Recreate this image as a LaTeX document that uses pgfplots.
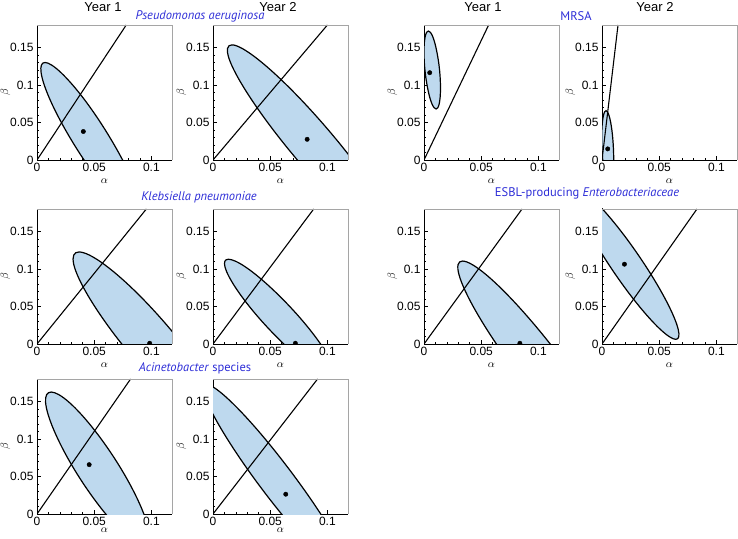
\documentclass[border=0pt]{standalone}
\usepackage{fontspec}
\setmainfont{Liberation Sans}
\newfontfamily\titlefont{PT Sans}
\usepackage{pgfplots}
\pgfplotsset{compat=1.18}
\definecolor{ellfill}{RGB}{190,217,238}
\definecolor{ttlblue}{RGB}{45,45,215}
\definecolor{framegray}{RGB}{165,165,165}

\pgfplotsset{
  panel/.style={
    width=135pt, height=135pt, scale only axis,
    anchor=north west,
    xmin=0, xmax=0.118, ymin=0, ymax=0.18,
    axis x line*=bottom, axis y line*=left,
    axis line style={black, line width=0.8pt},
    xtick={0,0.05,0.1}, xticklabels={0,0.05,0.1},
    ytick={0,0.05,0.1,0.15}, yticklabels={0,0.05,0.1,0.15},
    minor x tick num=4, minor y tick num=4,
    tick align=inside, major tick length=4pt, minor tick length=2pt,
    every tick/.style={black, line width=0.6pt},
    ticklabel style={font=\fontsize{12}{12}\selectfont},
    xlabel={$\alpha$}, ylabel={$\beta$},
    xlabel style={font=\fontsize{11}{11}\selectfont, yshift=0pt},
    ylabel style={font=\fontsize{11}{11}\selectfont, yshift=-7pt},
    clip marker paths=true,
    extra description/.code={\draw[framegray, line width=0.8pt] (0,1) -- (1,1) -- (1,0);},
  },
  ell/.style={fill=ellfill, draw=black, line width=1.2pt, smooth cycle, tension=0.63},
  ray/.style={black, line width=1.1pt},
  dot/.style={only marks, mark=*, mark size=2.2pt, black},
}

\begin{document}
\begin{tikzpicture}[x=1pt,y=1pt]
\path[use as bounding box] (0,0) rectangle (738,538);

% Pseudomonas Year 1
\begin{axis}[panel, at={(37pt,513pt)}]
\addplot[ell] coordinates {(0.007,0.130) (0.0211,0.1163) (0.0422,0.079) (0.0645,0.028) (0.0822,-0.023) (0.0904,-0.0603) (0.087,-0.074) (0.0729,-0.0603) (0.0518,-0.023) (0.0295,0.028) (0.0118,0.079) (0.0036,0.1163)};
\addplot[ray] coordinates {(0,0) (0.078,0.18)};
\addplot[dot] coordinates {(0.0405,0.038)};
\end{axis}

% Pseudomonas Year 2
\begin{axis}[panel, at={(213pt,513pt)}]
\addplot[ell] coordinates {(0.0166,0.1535) (0.0384,0.1353) (0.0736,0.0858) (0.1128,0.018) (0.1454,-0.0498) (0.1628,-0.0993) (0.1602,-0.1175) (0.1384,-0.0993) (0.1032,-0.0498) (0.064,0.018) (0.0314,0.0858) (0.014,0.1353)};
\addplot[ray] coordinates {(0,0) (0.1,0.18)};
\addplot[dot] coordinates {(0.0823,0.0276)};
\end{axis}

% MRSA Year 1
\begin{axis}[panel, at={(424pt,513pt)}]
\addplot[ell] coordinates {(0.0038,0.172) (0.0075,0.165) (0.0110,0.146) (0.0136,0.120) (0.0144,0.094) (0.0133,0.075) (0.0106,0.068) (0.0069,0.075) (0.0034,0.094) (0.0008,0.120) (0.0000,0.146) (0.0011,0.165)};
\addplot[ray] coordinates {(0,0) (0.0565,0.18)};
\addplot[dot] coordinates {(0.005,0.1164)};
\end{axis}

% MRSA Year 2
\begin{axis}[panel, at={(602pt,513pt)}]
\addplot[ell] coordinates {(0.0035,0.0658) (0.0062,0.059) (0.0086,0.0403) (0.010,0.0148) (0.0101,-0.0107) (0.0088,-0.0294) (0.0065,-0.0362) (0.0038,-0.0294) (0.0014,-0.0107) (0.0000,0.0148) (-0.0001,0.0403) (0.0012,0.059)};
\addplot[ray] coordinates {(0,0) (0.014,0.18)};
\addplot[dot] coordinates {(0.005,0.0148)};
\end{axis}

% Klebsiella Year 1
\begin{axis}[panel, at={(37pt,329pt)}]
\addplot[ell] coordinates {(0.0368,0.1227) (0.0586,0.1063) (0.0917,0.0614) (0.1271,0) (0.1555,-0.0614) (0.1691,-0.1063) (0.1644,-0.1227) (0.1426,-0.1063) (0.1096,-0.0614) (0.0741,0) (0.0458,0.0614) (0.0321,0.1063)};
\addplot[ray] coordinates {(0,0) (0.0956,0.18)};
\addplot[dot] coordinates {(0.0985,0.001)};
\end{axis}

% Klebsiella Year 2
\begin{axis}[panel, at={(213pt,329pt)}]
\addplot[ell] coordinates {(0.0135,0.113) (0.0285,0.1026) (0.0513,0.074) (0.076,0.035) (0.0958,-0.004) (0.1055,-0.0326) (0.1025,-0.043) (0.0875,-0.0326) (0.0647,-0.004) (0.040,0.035) (0.0202,0.074) (0.0105,0.1026)};
\addplot[ray] coordinates {(0,0) (0.088,0.18)};
\addplot[dot] coordinates {(0.072,0.001)};
\end{axis}

% ESBL Year 1
\begin{axis}[panel, at={(424pt,329pt)}]
\addplot[ell] coordinates {(0.0337,0.1106) (0.0548,0.0918) (0.0883,0.0403) (0.1253,-0.03) (0.1558,-0.1003) (0.1717,-0.1518) (0.1687,-0.1706) (0.1476,-0.1518) (0.1141,-0.1003) (0.0771,-0.03) (0.0466,0.0403) (0.0307,0.0918)};
\addplot[ray] coordinates {(0,0) (0.0857,0.18)};
\addplot[dot] coordinates {(0.0838,0.001)};
\end{axis}

% ESBL Year 2
\begin{axis}[panel, at={(602pt,329pt)}]
\addplot[ell] coordinates {(-0.0215,0.2062) (-0.0079,0.1928) (0.0136,0.1562) (0.0372,0.1062) (0.0566,0.0562) (0.0666,0.0196) (0.0645,0.0062) (0.0509,0.0196) (0.0294,0.0562) (0.0058,0.1062) (-0.0136,0.1562) (-0.0236,0.1928)};
\addplot[ray] coordinates {(0,0) (0.083,0.18)};
\addplot[dot] coordinates {(0.0196,0.1064)};
\end{axis}

% Acinetobacter Year 1
\begin{axis}[panel, at={(37pt,159pt)}, xlabel style={yshift=5pt}]
\addplot[ell] coordinates {(0.0124,0.1626) (0.0281,0.1489) (0.0505,0.1113) (0.0736,0.06) (0.0911,0.0087) (0.0985,-0.0289) (0.0936,-0.0426) (0.0779,-0.0289) (0.0555,0.0087) (0.0324,0.06) (0.0149,0.1113) (0.0075,0.1489)};
\addplot[ray] coordinates {(0,0) (0.0818,0.18)};
\addplot[dot] coordinates {(0.0456,0.0658)};
\end{axis}

% Acinetobacter Year 2
\begin{axis}[panel, at={(213pt,159pt)}, xlabel style={yshift=5pt}]
\addplot[ell] coordinates {(-0.006,0.173) (0.0114,0.1559) (0.0406,0.109) (0.0737,0.045) (0.102,-0.019) (0.1177,-0.0659) (0.1168,-0.083) (0.0994,-0.0659) (0.0703,-0.019) (0.0371,0.045) (0.0089,0.109) (-0.0069,0.1559)};
\addplot[ray] coordinates {(0,0) (0.0914,0.18)};
\addplot[dot] coordinates {(0.0636,0.0264)};
\end{axis}

% column headers
\begin{scope}[every node/.style={font=\fontsize{13}{13}\selectfont, inner sep=0pt}]
\node at (103,531) {Year 1};
\node at (278,531) {Year 2};
\node at (483,531) {Year 1};
\node at (655,531) {Year 2};
\end{scope}

% organism titles
\begin{scope}[every node/.style={font=\titlefont\fontsize{12.5}{13}\selectfont, text=ttlblue, inner sep=0pt}]
\node at (200,522) {\itshape Pseudomonas aeruginosa};
\node at (576,522) {MRSA};
\node at (199,341) {\itshape Klebsiella pneumoniae};
\node at (587,345) {ESBL-producing \textit{Enterobacteriaceae}};
\node at (195,170) {\textit{Acinetobacter} species};
\end{scope}
\end{tikzpicture}
\end{document}
